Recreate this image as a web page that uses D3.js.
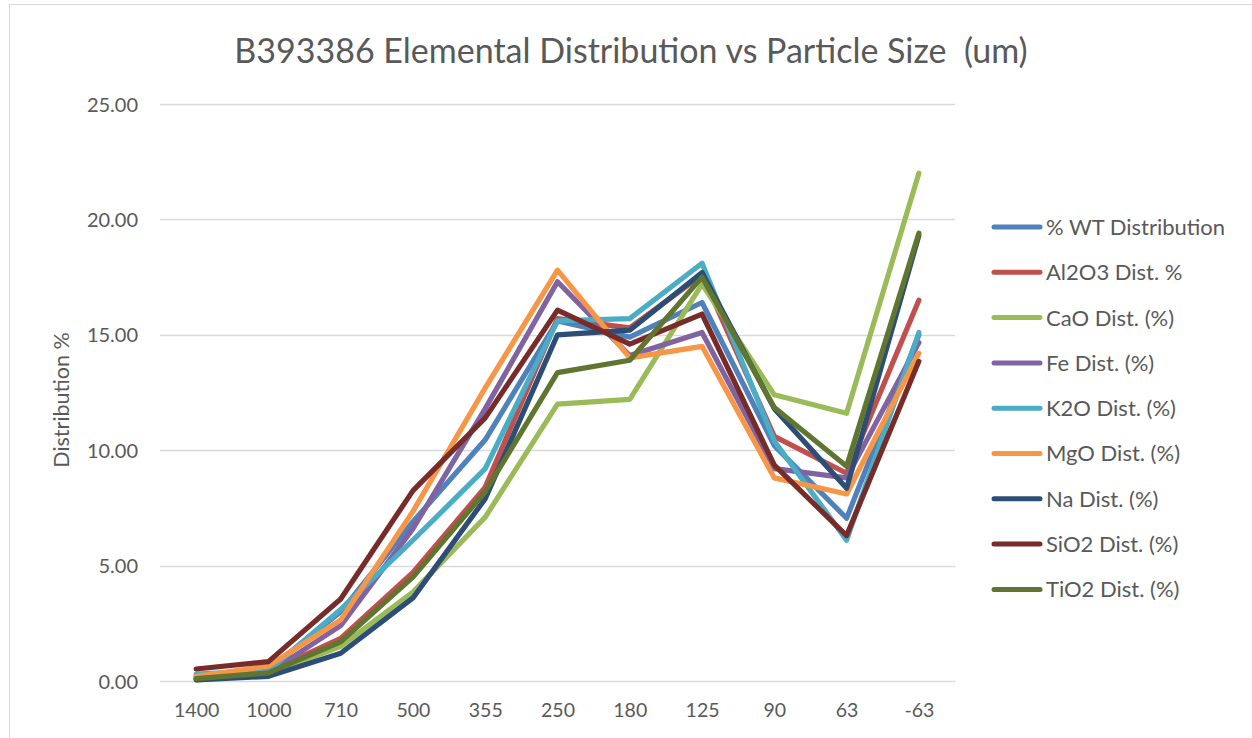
<!DOCTYPE html>
<html>
<head>
<meta charset="utf-8">
<script src="https://cdn.jsdelivr.net/npm/d3@7"></script>
<style>
  html, body { margin: 0; padding: 0; background: #fff; }
  svg { display: block; }
  text { font-family: Lato, "Open Sans", sans-serif; fill: #595959; }
</style>
</head>
<body>
<svg id="chart" width="1252" height="738"></svg>
<script>
// Particle size classes (um) along the x axis
const sizes = ["1400", "1000", "710", "500", "355", "250", "180", "125", "90", "63", "-63"];

// Distribution (%) per size class for each series
const wtDist   = [0.20, 0.50, 3.00, 6.90, 10.45, 15.60, 14.90, 16.40, 10.20, 7.05, 15.00];
const al2o3    = [0.10, 0.40, 1.85, 4.70, 8.40, 15.70, 15.30, 17.60, 10.60, 9.00, 16.50];
const cao      = [0.05, 0.30, 1.50, 3.85, 7.10, 12.00, 12.20, 17.20, 12.40, 11.60, 22.00];
const fe       = [0.10, 0.35, 2.40, 6.60, 11.80, 17.30, 14.10, 15.10, 9.20, 8.80, 14.66];
const k2o      = [0.30, 0.45, 3.10, 6.10, 9.20, 15.60, 15.70, 18.10, 10.40, 6.10, 15.10];
const mgo      = [0.20, 0.65, 2.65, 7.35, 12.70, 17.80, 14.00, 14.50, 8.80, 8.10, 14.20];
const na       = [0.05, 0.20, 1.20, 3.60, 7.90, 15.00, 15.20, 17.70, 11.80, 8.35, 19.30];
const sio2     = [0.52, 0.84, 3.55, 8.25, 11.40, 16.07, 14.60, 15.90, 9.35, 6.30, 13.85];
const tio2     = [0.10, 0.35, 1.70, 4.50, 8.20, 13.36, 13.90, 17.50, 11.85, 9.30, 19.40];

const seriesNames = ["% WT Distribution", "Al2O3 Dist. %", "CaO Dist. (%)", "Fe Dist. (%)",
  "K2O Dist. (%)", "MgO Dist. (%)", "Na Dist. (%)", "SiO2 Dist. (%)", "TiO2 Dist. (%)"];
const seriesValues = [wtDist, al2o3, cao, fe, k2o, mgo, na, sio2, tio2];
const seriesColors = ["#4F81BD", "#C0504D", "#9BBB59", "#8064A2", "#4BACC6",
  "#F79646", "#2C4D75", "#772C2A", "#5F7530"];

const yTicks = [0, 5, 10, 15, 20, 25];

const svg = d3.select("#chart");

// Outer chart frame
svg.append("rect")
  .attr("x", 9.5).attr("y", 4.5)
  .attr("width", 1260).attr("height", 760)
  .attr("fill", "#fff").attr("stroke", "#d9d9d9").attr("stroke-width", 1);

const plot = { left: 160, right: 955, top: 104, bottom: 681 };

const x = d3.scalePoint()
  .domain(sizes)
  .range([plot.left, plot.right])
  .padding(0.5);

const y = d3.scaleLinear()
  .domain([0, 25])
  .range([plot.bottom, plot.top]);

// Horizontal gridlines
svg.append("g")
  .selectAll("line")
  .data(yTicks)
  .join("line")
  .attr("x1", plot.left).attr("x2", plot.right)
  .attr("y1", d => Math.round(y(d)) + 0.5).attr("y2", d => Math.round(y(d)) + 0.5)
  .attr("stroke", "#d9d9d9").attr("stroke-width", 1.3);

// Y axis labels
const yAxis = d3.axisLeft(y).tickValues(yTicks).tickFormat(d3.format(".2f")).tickSize(0).tickPadding(0);
const yg = svg.append("g").attr("transform", `translate(${plot.left - 22},0)`).call(yAxis);
yg.select(".domain").remove();
yg.selectAll("text").style("font-size", "20px").attr("fill", "#595959").attr("dy", "0.35em");

// X axis labels
const xAxis = d3.axisBottom(x).tickSize(0).tickPadding(0);
const xg = svg.append("g").attr("transform", `translate(0,${plot.bottom + 22})`).call(xAxis);
xg.select(".domain").remove();
xg.selectAll("text").style("font-size", "19.5px").attr("fill", "#595959").attr("dy", "0.71em");

// Axis title
svg.append("text")
  .attr("transform", `translate(69,400) rotate(-90)`)
  .attr("text-anchor", "middle")
  .style("font-size", "21.5px")
  .text("Distribution %");

// Chart title (double space kept as drawn)
svg.append("text")
  .attr("x", 631).attr("y", 63)
  .attr("text-anchor", "middle")
  .attr("xml:space", "preserve")
  .style("white-space", "pre")
  .style("font-size", "34px")
  .text("B393386 Elemental Distribution vs Particle Size  (um)");

// Series lines
const line = d3.line()
  .x((d, i) => x(sizes[i]))
  .y(d => y(d));

svg.append("g")
  .selectAll("path")
  .data(seriesValues)
  .join("path")
  .attr("d", d => line(d))
  .attr("fill", "none")
  .attr("stroke", (d, i) => seriesColors[i])
  .attr("stroke-width", 5.2)
  .attr("stroke-linejoin", "round")
  .attr("stroke-linecap", "round");

// Legend
const legend = svg.append("g");
const legendTop = 227, legendStep = 45.3;
seriesNames.forEach((name, i) => {
  const ly = legendTop + i * legendStep;
  legend.append("line")
    .attr("x1", 994).attr("x2", 1040)
    .attr("y1", ly).attr("y2", ly)
    .attr("stroke", seriesColors[i]).attr("stroke-width", 5)
    .attr("stroke-linecap", "round");
  legend.append("text")
    .attr("x", 1046).attr("y", ly)
    .attr("dy", "0.36em")
    .style("font-size", "22px")
    .text(name);
});
</script>
</body>
</html>
